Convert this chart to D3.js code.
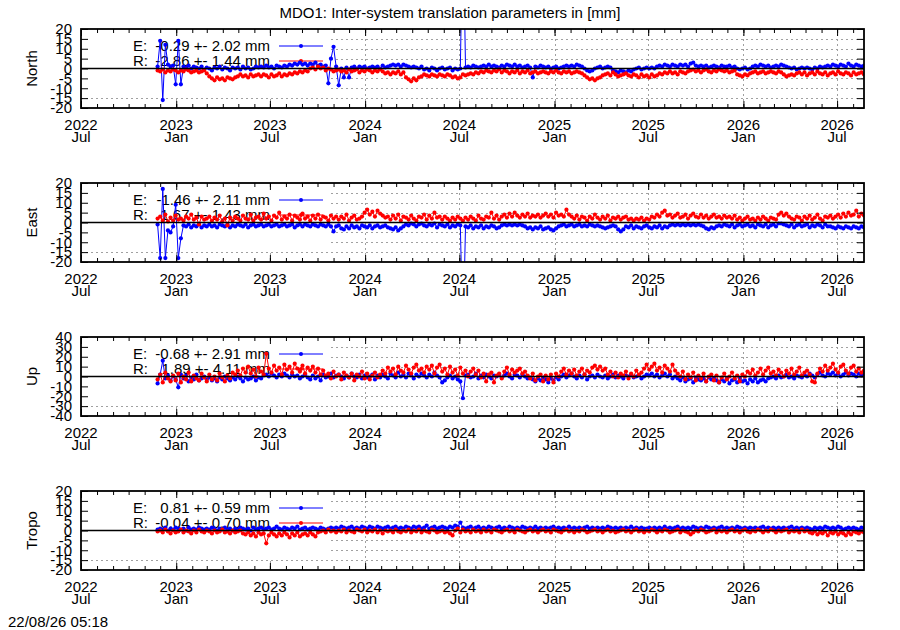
<!DOCTYPE html>
<html>
<head>
<meta charset="utf-8">
<script src="https://cdn.jsdelivr.net/npm/d3@7"></script>
<style>
body { margin: 0; background: #fff; }
svg { display: block; font-family: "Liberation Sans", Arial, sans-serif; }
</style>
</head>
<body>
<svg id="chart" width="900" height="630"></svg>
<script>
// daily solutions, one value every 5 days
const START = Date.UTC(2022, 10, 26);
const STEP_DAYS = 5;
const X_FROM = Date.UTC(2022, 6, 1);
const X_TO = Date.UTC(2026, 7, 22);

const TITLE = "MDO1: Inter-system translation parameters in [mm]";
const STAMP = "22/08/26 05:18";
const names = ["North", "East", "Up", "Tropo"];
const limits = [20, 20, 40, 20];
const tickSteps = [5, 5, 10, 5];
const keyE = ["-0.29 +- 2.02 mm", "-1.46 +- 2.11 mm", "-0.68 +- 2.91 mm", "0.81 +- 0.59 mm"];
const keyR = ["-2.86 +- 1.44 mm", "1.67 +- 1.43 mm", "1.89 +- 4.11 mm", "-0.04 +- 0.70 mm"];

const northE = [
  1, 14, -16, 12, 2, 1, 1.5, -8, 14, -8,
  1, 0.5, 1.5, 0, 1, 0.5, 0, 1, -0.5, 0.5,
  0, -1, 0.5, 0, 1, -0.5, 0.5, 0, -1, 0.5,
  0, 0.5, -0.5, 1, 0, 0.5, -0.5, 0, 1, 0.5,
  1, 0.5, 1.5, 0.5, 1, 0, 1.5, 1, 0.5, 1.5,
  1, 2, 1.5, 2.5, 2, 3, 2, 2.5, 1.5, 2.5,
  2, 3, 1.5, 2, 1, 1.5, -7.5, 5, 11, 1,
  -8.5, 0, -4.5, 0.5, -4.5, 0.5, 1, 0, 1, 0.5,
  1, 0, 0.5, 1, 0.5, 1, 0, 1.5, 0.5, 1,
  1.5, 2, 1.5, 2, 1, 2, 1.5, 1, 0.5, 1,
  0.5, 0, 1, -0.5, 0, -1, 0.5, 0, -1, 0,
  0.5, -0.5, 0, 0.5, -1, 0, -0.5, 0, 80, 0.5,
  1, 0.5, 1.5, 1, 0.5, 1, 1.5, 1, 2, 1,
  1.5, 1, 0.5, 1.5, 1, 2, 1.5, 1, 2, 1,
  1.5, 0.5, 1, 1.5, 0.5, -4.5, 1, 0.5, 1.5, 1,
  0.5, 1, 0, 0.5, 1, 0, 0.5, 1, 1.5, 1,
  1.5, 1, 2, 1.5, 1, 0, -1, -1.5, -1, 0,
  0.5, 1, 0, 0.5, 1, 0.5, -1, -1.5, -2, -1,
  -1.5, -2, -1, -1.5, -0.5, 0, 0.5, -0.5, 0, 0.5,
  0, 0.5, 0, 1, 1.5, 1, 2, 1.5, 1, 2,
  1.5, 1, 2, 1.5, 2, 1, 2.5, 3, 1.5, 1,
  1.5, 1, 1.5, 0.5, 1, 1.5, 1, 0.5, 1.5, 1,
  1, 1.5, 0.5, 1, 0, -0.5, 0, 0.5, -0.5, 0,
  1, 1.5, 1, 2, 1.5, 1, 1.5, 0.5, 1, 1.5,
  1, 2, 1.5, 1, 0.5, 0, 0.5, -0.5, 0, 0.5,
  0, 0.5, 0, -0.5, 0.5, 0, 1, 0.5, 1, 1.5,
  1, 2, 1.5, 1, 2, 1.5, 1, 2.5, 1.5, 1,
  2, 1.5, 1, 1.5
];
const northR = [
  -1, -1.5, -0.5, -2, -1, -1.5, -0.5, -1, -2, -1,
  -1.5, -0.5, -1, -2, -1.5, -1, -2, -1.5, -1, -2.5,
  -4, -5, -6, -4.5, -5.5, -5, -6, -4.5, -5, -5.5,
  -4.5, -4, -3, -4, -3.5, -4.5, -3, -4, -3.5, -3,
  -4, -3, -3.5, -4.5, -3, -4, -3.5, -2.5, -4, -3,
  -3.5, -2.5, -3, -2, -2.5, -1.5, -2, -1, -1.5, 0,
  0.5, -0.5, 1, 0, 0.5, -1, 0, -0.5, -1.5, -1,
  -0.5, -1.5, -1, -2, -0.5, -1.5, -1, -0.5, -2, -1,
  -1.5, -0.5, -1, -2, -1, -1.5, -0.5, -1.5, -2.5, -2,
  -3, -2, -2.5, -1.5, -3, -2, -4.5, -5.5, -6.5, -5,
  -6, -4.5, -4, -3, -3.5, -4, -3, -3.5, -4, -3,
  -3.5, -4, -3, -3.5, -4.5, -4, -5, -4.5, -3, -3.5,
  -3, -2.5, -3, -2, -2.5, -1.5, -2, -1, -1.5, -2,
  -1, -1.5, -0.5, -2, -1, -1.5, -2.5, -1.5, -2, -1,
  -2.5, -1.5, -2, -1, -2.5, -2, -1.5, -2.5, -2, -1.5,
  -2, -2.5, -1.5, -2, -1, -2, -2.5, -1.5, -2, -1.5,
  -2.5, -2, -1.5, -2, -2.5, -3.5, -4.5, -5.5, -5, -6,
  -5, -4.5, -3.5, -3, -2.5, -3.5, -2, -3, -4, -3.5,
  -3, -2.5, -3.5, -4, -3, -3.5, -4.5, -3, -4, -3.5,
  -4.5, -3, -4, -3.5, -2.5, -3, -2, -2.5, -1.5, -2.5,
  -2, -3, -1.5, -2, -2.5, -1.5, -1, -0.5, -1.5, -1,
  -2, -1, -0.5, -1.5, -2, -1, -1.5, -0.5, -1, -1.5,
  -1, -2, -1.5, -1, -3, -3.5, -4, -3, -3.5, -2.5,
  -2, -1.5, -2.5, -2, -1.5, -2.5, -2, -1.5, -2, -2.5,
  -1.5, -2, -3, -4, -3.5, -3, -3.5, -2.5, -2, -3,
  -2, -3.5, -2.5, -2, -3, -1.5, -2.5, -3, -2, -3.5,
  -2.5, -2, -3, -1.5, -2.5, -3, -2, -2.5, -3.5, -2,
  -3, -2.5, -2, -3
];
const eastE = [
  -1, -18, 17, -18, -4, -5, -2, 9, -18, -8,
  -1.5, -2, -1, -2.5, -1.5, -2, -1, -2.5, -1.5, -2,
  -1, -2, -1.5, -2.5, -1, -1.5, -2, -1, -2.5, -1.5,
  -2, -1, -1.5, -2, -1, -2.5, -1.5, -1, -2, -1.5,
  -1, -2, -1.5, -1, -2, -1.5, -1, -2, -1.5, -1,
  -2, -1.5, -1, -2.5, -1.5, -1, -2, -1, -1.5, -2,
  -1, -1.5, -2, -1, -1.5, -2, -1, -2, -4.5, -2,
  -1.5, -3, -3.5, -2, -3, -1.5, -2.5, -2, -3, -1.5,
  -2, -2.5, -1.5, -3, -2, -1.5, -2.5, -2, -1.5, -2.5,
  -3, -3.5, -2.5, -4, -3, -2, -1, -1.5, -0.5, -1,
  -2, -1, -0.5, -1.5, -2, -1, -1.5, -0.5, -2.5, -1,
  -1.5, -2, -1, -2.5, -1.5, -2, -1, -1.5, -60, -2,
  -2.5, -1.5, -3, -2, -2.5, -1.5, -3, -2, -2.5, -1.5,
  -2, -3, -2.5, -1.5, -1, -1.5, -1, -1.5, -1, -1.5,
  -1, -1.5, -2, -3, -2.5, -3.5, -2.5, -3, -2, -3.5,
  -3, -2.5, -3.5, -4, -3, -2, -1.5, -1, -2, -1.5,
  -1, -2, -1.5, -1, -2, -1.5, -2, -1, -1.5, -2,
  -1.5, -2, -2.5, -3, -2.5, -2, -1.5, -2, -3.5, -4.5,
  -3.5, -2, -2.5, -1.5, -3, -2, -2.5, -3, -2, -1.5,
  -2.5, -3, -2, -2.5, -1.5, -3, -2, -2.5, -1.5, -1,
  -1.5, -1, -1.5, -1, -1.5, -1, -1.5, -1, -1.5, -1,
  -1.5, -2, -3, -3.5, -2.5, -3, -2, -1.5, -2, -1,
  -1.5, -2, -1, -2.5, -1.5, -1, -2, -1.5, -1, -2,
  -1.5, -2.5, -1, -1.5, -2, -1, -2.5, -1.5, -1, -2,
  -0.5, -0.5, -1, -1.5, -2, -1, -2.5, -1.5, -1, -2,
  -1.5, -1, -2.5, -1.5, -2, -1, -1.5, -2.5, -1, -2,
  -2, -2.5, -3, -2, -2.5, -3, -2, -2.5, -3, -2,
  -2.5, -3, -2, -2.5
];
const eastR = [
  2, 3, 1, 4, 0.5, 2.5, 1, 3.5, 1.5, 2,
  1, 3, 2, 4, 1.5, 2.5, -1, 3, 1.5, 2,
  3, 1, 2.5, 1.5, 3.5, 0.5, 2, -1.5, 2.5, 1,
  3, 2, 1, 3.5, 2, 1.5, 4, 1, 2.5, 3,
  1.5, 4.5, 2, 3, 1, 3.5, 2.5, 5, 1.5, 3,
  2, 4, 1, 3.5, 2.5, 1.5, 4.5, 2, 3, 1,
  3.5, 2, 4, 1.5, 3, 2.5, 1, 3.5, 2, 3,
  1.5, 3, 2, 4, 1, 2.5, 3.5, 1.5, 2, 3,
  5, 6.5, 4, 5.5, 3, 6, 4.5, 3.5, 2.5, 3,
  1.5, 3.5, 2, 4, 1, 3, 2.5, 1.5, 3.5, 2,
  1, 3, 2.5, 4, 1.5, 3.5, 2, 5, 2.5, 3,
  1.5, 3, 2, 1, 2.5, 1.5, 3, 2, 1, 2.5,
  1.5, 3, 2, 1, 3.5, 2, 1.5, 3, 2.5, 5,
  2, 3.5, 1.5, 3, 4, 2.5, 4.5, 3, 5, 3.5,
  2.5, 4, 3, 4.5, 2.5, 3.5, 3, 4, 2.5, 3.5,
  4.5, 3, 4, 2.5, 5, 3.5, 4, 3, 6.5, 4,
  3, 2, 3.5, 1.5, 3, 2.5, 1, 3, 2, 4,
  2.5, 1.5, 3, 2, 3.5, 1, 2.5, 2, 3, 1.5,
  2.5, 3, 1.5, 2, 1, 2, 1.5, 2.5, 1, 2,
  1.5, 3, 2.5, 4, 3, 5, 6, 3.5, 4, 2.5,
  3.5, 4.5, 2.5, 3, 4, 2, 3.5, 4.5, 3, 2.5,
  4, 2.5, 3.5, 2, 3, 4, 2.5, 3, 2, 3.5,
  2.5, 3, 2, 3.5, 1.5, 2.5, 1, 2, 3, 1.5,
  2, 1, 2.5, 1.5, 3, 2, 1, 2.5, 2, 1.5,
  4, 5, 3.5, 4.5, 3, 2, 1.5, 3, 2.5, 1,
  3, 2, 3.5, 1.5, 2.5, 4, 2, 1, 3, 2.5,
  3.5, 2, 3, 4, 2.5, 4.5, 3, 5, 3.5, 4,
  6, 3, 4.5, 3.5
];
const upE = [
  -7, 2, 16, -2, 1, -4, 0, -3, -11, 2,
  -2, 1, -5, -1, -3, 2, -4, -2, 0, -3,
  -1, -4, -2, -5, -1, -3, 0, -2, -4, -1,
  -3, 0, -2, -5, -1, -3, -2, 0, -4, -1,
  -2, 1, 2, 0, 3, 1, -1, 2, 0, 3,
  1, -1, 2, 0, 1, -2, 0, 2, -1, -3,
  1, -2, 0, -4, 2, -1, 0, 3, -1, 1,
  2, 0, -2, 1, -1, 3, 0, -1, 2, -2,
  1, -1, 0, 2, -3, 1, -1, 2, 0, -2,
  3, 1, -1, 4, 0, 2, -1, 3, 1, -2,
  2, 0, 3, 1, -1, 2, 0, 4, 1, -1,
  -6, -4, -1, 1, -2, 0, -3, -5, -22, 1,
  2, -1, 0, 3, -2, 1, -1, 2, 0, -2,
  1, 0, 2, -1, 1, 3, 0, -2, 2, 1,
  -1, 2, 0, -2, -1, -3, -5, -2, -4, -1,
  -3, -6, -2, -4, -1, -3, 0, 2, -1, 1,
  3, 0, -2, 1, -1, 2, -3, 0, 1, -1,
  2, 0, -1, 1, -2, 0, 2, -1, 1, 0,
  -2, 1, 0, 2, -1, 0, 1, -2, 0, 2,
  1, 3, 0, 2, -1, 1, 3, 0, 2, -2,
  0, -2, -4, -1, -5, -3, -2, -6, -1, -3,
  -4, -2, -5, -1, -3, -2, -4, -6, -3, -5,
  -2, -7, -4, -3, -6, -2, -5, -4, -7, -3,
  -5, -2, -6, -4, -3, -5, -2, -1, 0, -2,
  1, -1, 0, 2, -1, 0, -2, 1, 0, -1,
  2, 0, 3, 1, -1, 2, 4, 1, 0, 3,
  2, 4, 1, 3, 0, 2, 4, 1, 3, 2,
  0, 3, 1, 2
];
const upR = [
  -3, 2, -6, 4, -2, -5, 1, -4, 3, -6,
  0, -3, 4, -5, 1, -2, -4, 3, -1, -5,
  2, -3, 0, -4, 3, -1, -5, 1, -2, 4,
  2, 6, 1, 8, 4, 10, 3, 7, 0, 9,
  5, 2, 23, 8, 4, 11, 6, 9, 2, 12,
  7, 10, 4, 13, 8, 5, 11, 3, 9, 6,
  10, 4, 8, 2, 6, 1, 3, -2, 5, 0,
  2, -3, 4, 1, -1, 3, -4, 2, 0, 5,
  -2, 3, -3, 1, 4, -1, 2, 6, 3, 9,
  5, 8, 2, 10, 6, 4, 11, 7, 3, 9,
  12, 6, 8, 4, 10, 7, 11, 3, 9, 12,
  5, 8, 2, 10, 4, 7, 1, 9, 3, 6,
  0, 5, 8, 2, 6, -1, 3, -5, 2, 4,
  -6, 1, 3, -2, 5, 9, 2, 7, 4, 6,
  8, 3, 5, 1, -2, 3, -4, 0, 2, -5,
  1, -3, 2, -6, 3, 0, 5, 8, 2, 6,
  3, 7, 1, 5, 8, 2, 6, 4, 9, 11,
  7, 10, 6, 8, 2, 5, 0, 4, -1, 3,
  1, 5, -2, 3, 0, 6, 2, 4, 8, 12,
  7, 10, 13, 6, 9, 4, 11, 8, 5, 12,
  6, 3, 0, 5, -3, 2, -1, 4, -4, 1,
  -2, 3, -5, 0, 2, -4, 1, -6, -1, 3,
  -3, 0, 4, -2, 1, -5, 2, 0, 5, 3,
  7, 1, 4, 8, 2, 6, 9, 3, 5, 1,
  7, 4, 0, 6, 3, 8, 2, 5, 9, 1,
  4, 6, 2, -5, -6, 3, 8, 5, 11, 6,
  9, 13, 7, 4, 10, 12, 6, 3, 9, 11,
  5, 8, 4, 6
];
const tropoE = [
  0.5, 1, 0.5, 1.5, 0, 1, 0.5, 1.5, 1, 0.5,
  1, 0, 1.5, 0.5, 1, 0.5, 1.5, 1, 0.5, 1,
  0.5, 1.5, 1, 0, 1, 0.5, 1.5, 0.5, 1, 0,
  1, 0.5, 1.5, 1, 0.5, 1, 0, 1.5, 0.5, 1,
  1.5, 0.5, 1, 1.5, 0.5, 1, 2, 1, 0.5, 1.5,
  1, 0.5, 1.5, 1, 2, 0.5, 1, 1.5, 0.5, 1,
  1.5, 1, 0.5, 1.5, 1, 0.5, 1, 1.5, 1, 1.5,
  1, 2, 1.5, 1, 1.5, 2, 1, 1.5, 1, 2,
  1.5, 1, 2, 1.5, 1, 2, 1.5, 1, 1.5, 2,
  1, 1.5, 2, 1, 1.5, 1, 2, 1.5, 1, 2,
  1.5, 2, 1, 1.5, 2.5, 1, 1.5, 2, 1, 1.5,
  2, 1.5, 1, 2, 1.5, 2.5, 2, 4, 1.5, 1,
  1.5, 2, 1, 1.5, 2, 1, 1.5, 1, 2, 1.5,
  1, 1.5, 2, 1, 1.5, 1, 2, 1.5, 1, 1.5,
  1, 2, 1.5, 1, 1.5, 1, 2, 1, 1.5, 1,
  1.5, 1, 1.5, 2, 1, 1.5, 1, 1.5, 1, 2,
  1, 1.5, 1, 1.5, 1, 1.5, 2, 1, 1.5, 1,
  1.5, 1, 1.5, 1, 2, 1.5, 1, 1.5, 1, 1.5,
  1, 1.5, 1, 2, 1, 1.5, 1, 1.5, 1, 1,
  1.5, 1, 1.5, 1, 1.5, 1, 2, 1, 1.5, 1,
  1.5, 2, 1, 1.5, 1, 1.5, 1, 2, 1.5, 1,
  1.5, 1, 2, 1.5, 1, 1.5, 1, 1.5, 2, 1,
  1.5, 1, 1.5, 1, 2, 1.5, 1, 1.5, 1, 1.5,
  1, 1.5, 1, 1.5, 2, 1, 1.5, 1, 1.5, 1,
  1.5, 1, 1.5, 1, 1.5, 2, 1, 1.5, 1, 1.5,
  1, 1.5, 1, 0.5, 1.5, 1, 1.5, 1, 2, 1.5,
  1, 1.5, 1, 2, 1.5, 0.5, 1, 1.5, 1, 1.5,
  1, 0.5, 1.5, 1
];
const tropoR = [
  -0.5, 0, -1, 0.5, -0.5, -1.5, 0, -1, -0.5, 0.5,
  -1, 0, -0.5, -1.5, 0, -1, 0.5, -0.5, -1, 0,
  -0.5, -1.5, 0, -1, -0.5, 0.5, -1, -0.5, -1.5, 0,
  -1, -0.5, 0, -1.5, -2, -1, -2.5, -1.5, -3, -1,
  -2, -1.5, -6.5, -2.5, -1, -2, -3, -1.5, -2.5, -1,
  -2, -3.5, -1.5, -2.5, -1, -3, -2, -1.5, -2.5, -1,
  -2, -3, -1, -0.5, 0, -1, 0.5, -0.5, 0, -1,
  0, -0.5, 0.5, -1, 0, -0.5, -1, 0.5, 0, -0.5,
  0.5, -1, 0, -0.5, 0.5, -1, 0, -1.5, 0, -0.5,
  0, -1, 0.5, -0.5, -1, 0, -0.5, 0.5, -1, 0,
  -0.5, 0.5, -1, 0, -0.5, -1, 0.5, 0, -1, -0.5,
  0, -1, -0.5, -1.5, -2.5, 0, 1, -1, 0.5, -0.5,
  0, -1, 0.5, -0.5, 0, -1, 0.5, -0.5, 0, -1,
  0.5, 0, -0.5, -1, 0, 0.5, -0.5, 0, -1, 0.5,
  0, -0.5, -1, 0, 0.5, -0.5, 0, -1, 0, 0.5,
  -0.5, 0, -1, 0.5, 0, -0.5, -1, 0, 0.5, -0.5,
  0, -1, 0, -0.5, 0.5, 0, -1, -0.5, 0, 0.5,
  -0.5, 0, -1, 0, 0.5, -0.5, 0, -1, -0.5, 0,
  0.5, -0.5, 0, -1, 0, 0.5, -0.5, 0, -1, 0,
  -0.5, 0.5, 0, -1, 0, -0.5, 0.5, 0, -1, -0.5,
  0, 0.5, -1, 0, -0.5, -1, -2, -1, 0, -0.5,
  0.5, 0, -1, -0.5, 0, 0.5, -1, 0, -0.5, 0,
  -1, 0, 0.5, -0.5, 0, -1, 0, 0.5, -0.5, -1,
  0, -0.5, 0.5, 0, -1, 0, -0.5, 0.5, 0, -1,
  0, -0.5, 0, 0.5, -1, 0, -0.5, 0, -1, 0.5,
  -0.5, 0, -1, -1.5, -0.5, -2, -1, -1.5, -0.5, -2.5,
  -1, -1.5, -0.5, -2, -1, -1.5, -2.5, -1, -2, -0.5,
  -1, -1.5, -0.5, -1
];

const seriesE = [northE, eastE, upE, tropoE];
const seriesR = [northR, eastR, upR, tropoR];

const X0 = 81, X1 = 864, H = 79;
const FS = 15;
const BLUE = "#0000ff", RED = "#ff0000";
const svg = d3.select("#chart");

const x = d3.scaleUtc().domain([X_FROM, X_TO]).range([X0, X1]);
const majorTicks = d3.utcMonth.every(6).range(new Date(X_FROM), new Date(X_TO));
const minorTicks = d3.utcMonth.range(new Date(X_FROM), new Date(X_TO));
const fmtYear = d3.utcFormat("%Y");
const fmtMonth = d3.utcFormat("%b");
const dateAt = i => new Date(START + i * STEP_DAYS * 864e5);

svg.append("text")
  .attr("x", 450).attr("y", 18)
  .attr("text-anchor", "middle")
  .attr("font-size", FS)
  .text(TITLE);

svg.append("text")
  .attr("x", 8).attr("y", 627)
  .attr("font-size", FS)
  .text(STAMP);

names.forEach((name, k) => {
  const top = 29 + 154 * k;
  const lim = limits[k];
  const y = d3.scaleLinear().domain([-lim, lim]).range([H, 0]);
  const yTicks = d3.range(-lim, lim + 0.1, tickSteps[k]);
  const g = svg.append("g").attr("transform", `translate(0,${top})`);

  // dotted grid
  const grid = g.append("g")
    .attr("stroke", "#a0a0a0")
    .attr("stroke-dasharray", "2,3")
    .attr("stroke-width", 1);
  grid.selectAll("line.h")
    .data(yTicks.filter(v => Math.abs(v) < lim && v !== 0))
    .join("line")
    .attr("class", "h")
    .attr("x1", X0).attr("x2", X1)
    .attr("y1", d => Math.round(y(d)) + 0.5)
    .attr("y2", d => Math.round(y(d)) + 0.5);
  grid.selectAll("line.v")
    .data(majorTicks.filter(d => x(d) > X0 + 1))
    .join("line")
    .attr("class", "v")
    .attr("x1", d => Math.round(x(d)) + 0.5)
    .attr("x2", d => Math.round(x(d)) + 0.5)
    .attr("y1", 0).attr("y2", H);

  // opaque key box
  g.append("rect")
    .attr("x", X0 + 1).attr("y", 1)
    .attr("width", 330 - X0 - 1).attr("height", 67)
    .attr("fill", "#fff");

  const key = [["E:", keyE[k], BLUE], ["R:", keyR[k], RED]];
  key.forEach(([lab, txt, col], j) => {
    const cy = 17 + 15 * j;
    g.append("text").attr("x", 133).attr("y", cy + 5).attr("font-size", FS).text(lab);
    g.append("text").attr("x", 270).attr("y", cy + 5).attr("font-size", FS)
      .attr("text-anchor", "end").text(txt);
    g.append("line").attr("x1", 279).attr("x2", 323).attr("y1", cy).attr("y2", cy)
      .attr("stroke", col).attr("stroke-width", 1);
    g.append("circle").attr("cx", 301).attr("cy", cy).attr("r", 2).attr("fill", col);
  });

  // data
  const clipId = "clip" + k;
  g.append("clipPath").attr("id", clipId)
    .append("rect").attr("x", X0).attr("y", 0).attr("width", X1 - X0).attr("height", H);
  const plot = g.append("g").attr("clip-path", `url(#${clipId})`);
  const line = d3.line().x((d, i) => x(dateAt(i))).y(d => y(d));
  [[seriesE[k], BLUE], [seriesR[k], RED]].forEach(([vals, col]) => {
    plot.append("path")
      .attr("d", line(vals))
      .attr("fill", "none")
      .attr("stroke", col)
      .attr("stroke-width", 1);
    plot.append("g").selectAll("circle")
      .data(vals)
      .join("circle")
      .attr("cx", (d, i) => x(dateAt(i)))
      .attr("cy", d => y(d))
      .attr("r", 2.1)
      .attr("fill", col);
  });

  // zero axis
  g.append("line")
    .attr("x1", X0).attr("x2", X1)
    .attr("y1", y(0)).attr("y2", y(0))
    .attr("stroke", "#000").attr("stroke-width", 1.5);

  // ticks
  const axes = g.append("g");
  axes.append("g").attr("transform", `translate(0,${H})`)
    .call(d3.axisBottom(x).tickValues(minorTicks).tickSize(-4).tickFormat(""));
  axes.append("g")
    .call(d3.axisTop(x).tickValues(minorTicks).tickSize(-4).tickFormat(""));
  axes.append("g").attr("transform", `translate(0,${H})`)
    .call(d3.axisBottom(x).tickValues(majorTicks).tickSize(-7).tickFormat(""));
  axes.append("g")
    .call(d3.axisTop(x).tickValues(majorTicks).tickSize(-7).tickFormat(""));
  axes.append("g").attr("transform", `translate(${X0},0)`)
    .call(d3.axisLeft(y).tickValues(yTicks).tickSize(-7).tickPadding(9).tickFormat(d => String(d)));
  axes.append("g").attr("transform", `translate(${X1},0)`)
    .call(d3.axisRight(y).tickValues(yTicks).tickSize(-7).tickFormat(""));
  axes.selectAll(".domain").remove();
  axes.selectAll("line").attr("stroke", "#000").attr("stroke-width", 1);
  axes.selectAll("g").attr("font-size", FS).attr("font-family", null);
  axes.selectAll("text").attr("fill", "#000");

  // two-line date labels
  const lab = g.append("g").attr("font-size", FS).attr("text-anchor", "middle");
  majorTicks.forEach(d => {
    lab.append("text").attr("x", x(d)).attr("y", H + 22).text(fmtYear(d));
    lab.append("text").attr("x", x(d)).attr("y", H + 34).text(fmtMonth(d));
  });

  // border
  g.append("rect")
    .attr("x", X0).attr("y", 0)
    .attr("width", X1 - X0).attr("height", H)
    .attr("fill", "none")
    .attr("stroke", "#000")
    .attr("stroke-width", 1.8);

  // axis name
  g.append("text")
    .attr("transform", `translate(37,${H / 2}) rotate(-90)`)
    .attr("text-anchor", "middle")
    .attr("font-size", FS)
    .text(name);
});
</script>
</body>
</html>
